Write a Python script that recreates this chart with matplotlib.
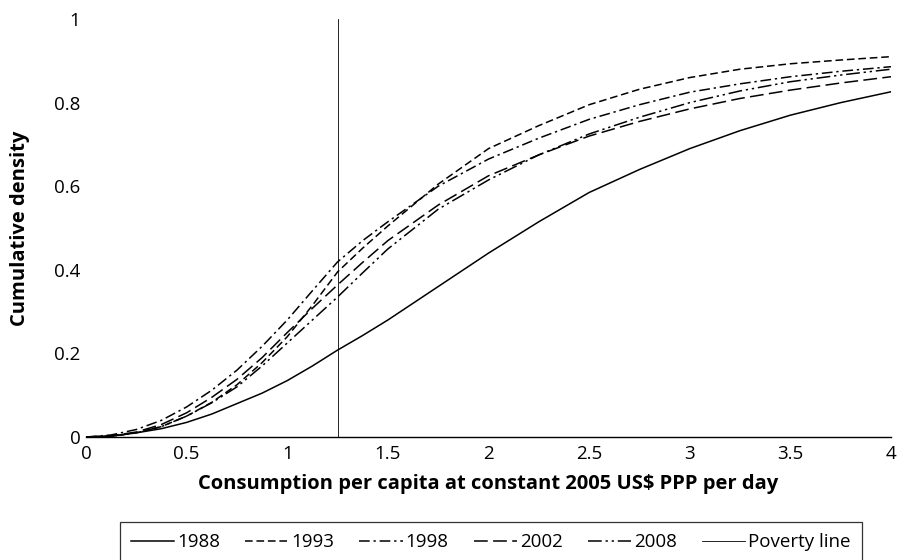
import matplotlib.pyplot as plt
from matplotlib.lines import Line2D

plt.rcParams['font.family'] = ['Open Sans', 'DejaVu Sans']

# consumption (2005 US$ PPP per day)
x = [0, 0.125, 0.25, 0.375, 0.5, 0.625, 0.75, 0.875, 1.0, 1.125, 1.25, 1.375, 1.5,
     1.75, 2.0, 2.25, 2.5, 2.75, 3.0, 3.25, 3.5, 3.75, 4.0]

# cumulative density
cdf_1988 = [0, 0.002, 0.01, 0.02, 0.035, 0.055, 0.08, 0.105, 0.135, 0.17, 0.208, 0.243, 0.28,
            0.36, 0.44, 0.515, 0.585, 0.64, 0.69, 0.733, 0.77, 0.8, 0.826]
cdf_1993 = [0, 0.002, 0.01, 0.025, 0.05, 0.083, 0.125, 0.178, 0.24, 0.315, 0.395, 0.452, 0.505,
            0.605, 0.69, 0.745, 0.795, 0.832, 0.86, 0.88, 0.893, 0.902, 0.91]
cdf_1998 = [0, 0.005, 0.018, 0.04, 0.072, 0.112, 0.16, 0.217, 0.28, 0.35, 0.419, 0.47, 0.515,
            0.6, 0.665, 0.715, 0.76, 0.795, 0.825, 0.845, 0.862, 0.875, 0.886]
cdf_2002 = [0, 0.003, 0.012, 0.03, 0.058, 0.095, 0.138, 0.19, 0.25, 0.308, 0.364, 0.418, 0.47,
            0.555, 0.625, 0.675, 0.72, 0.755, 0.785, 0.81, 0.83, 0.847, 0.862]
cdf_2008 = [0, 0.002, 0.01, 0.025, 0.05, 0.082, 0.12, 0.17, 0.225, 0.28, 0.335, 0.393, 0.45,
            0.545, 0.615, 0.675, 0.725, 0.765, 0.8, 0.828, 0.85, 0.866, 0.88]

poverty_line = 1.25

series = [
    ("1988", cdf_1988, "-"),
    ("1993", cdf_1993, (0, (5, 2.5))),
    ("1998", cdf_1998, (0, (7, 2.5, 1.5, 2.5))),
    ("2002", cdf_2002, (0, (9, 3.5))),
    ("2008", cdf_2008, (0, (9, 2.5, 1.5, 2.5, 1.5, 2.5))),
]

fig = plt.figure(figsize=(8.97, 5.6), dpi=100)
ax = fig.add_axes([0.0959, 0.2196, 0.8974, 0.7464])

handles = []
for name, vals, ls in series:
    ln, = ax.plot(x, vals, color="black", linestyle=ls, linewidth=1.1, label=name)
    handles.append(ln)

ax.axvline(poverty_line, color="black", linewidth=0.6)
handles.append(Line2D([], [], color="black", linewidth=0.6, label="Poverty line"))

ax.set_xlim(0, 4)
ax.set_ylim(0, 1)
ax.set_xticks([0, 0.5, 1, 1.5, 2, 2.5, 3, 3.5, 4])
ax.set_xticklabels(["0", "0.5", "1", "1.5", "2", "2.5", "3", "3.5", "4"])
ax.set_yticks([0, 0.2, 0.4, 0.6, 0.8, 1])
ax.set_yticklabels(["0", "0.2", "0.4", "0.6", "0.8", "1"])
ax.tick_params(axis="both", length=0, labelsize=13.5)
ax.tick_params(axis="x", pad=6)
ax.tick_params(axis="y", pad=4)

for s in ["top", "right", "left"]:
    ax.spines[s].set_visible(False)
ax.spines["bottom"].set_linewidth(1.0)

ax.set_xlabel("Consumption per capita at constant 2005 US$ PPP per day",
              fontsize=14.5, fontweight="bold", labelpad=8)
ax.set_ylabel("Cumulative density", fontsize=14.5, fontweight="bold", labelpad=17)

leg = fig.legend(handles=handles, loc="upper center", bbox_to_anchor=(0.547, 0.0679),
                 ncol=6, frameon=True, fancybox=False, fontsize=13.5,
                 handlelength=2.3, handletextpad=0.15, columnspacing=1.35,
                 borderpad=0.6, borderaxespad=0)
leg.get_frame().set_edgecolor("black")
leg.get_frame().set_linewidth(0.9)

fig.savefig("out.png", dpi=100)
